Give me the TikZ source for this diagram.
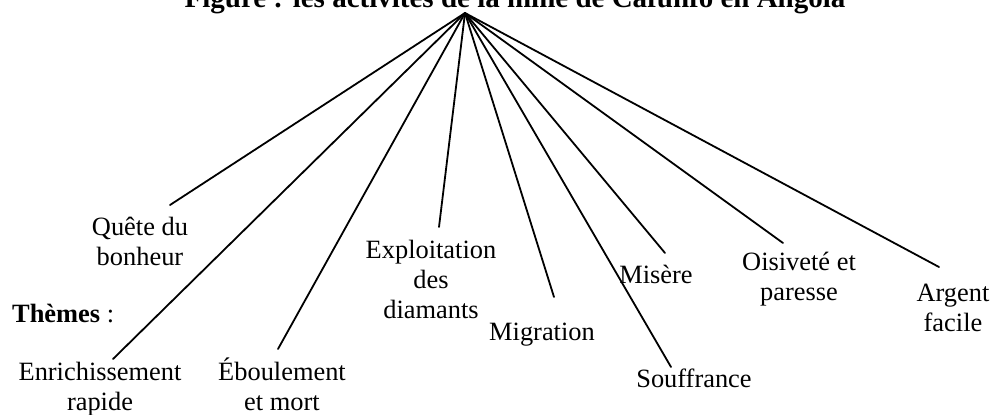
\documentclass[tikz,border=0pt]{standalone}
\usepackage{fontspec}
\setmainfont{Liberation Serif}
\begin{document}
\begin{tikzpicture}[x=1pt,y=-1pt,
  lbl/.style={inner sep=0pt,align=center,anchor=base,font=\fontsize{26.4}{30}\selectfont},
  ttl/.style={inner sep=0pt,anchor=base,font=\fontsize{29}{33}\selectfont\bfseries},
  conn/.style={line width=1.8pt,line cap=round}]
\useasboundingbox (0,0) rectangle (996,415);
\clip (0,0) rectangle (996,415);
\node[ttl] (title) at (515,7) {Figure : les activités de la mine de Cafunfo en Angola};
\coordinate (apex) at (465,13);
\node[lbl] (quete) at (140,265) {Quête du\\bonheur};
\node[lbl,anchor=base west] (themes) at (12,322) {\textbf{Thèmes} :};
\node[lbl] (enrich) at (100,410) {Enrichissement\\rapide};
\node[lbl] (eboul) at (282,410) {Éboulement\\et mort};
\node[lbl] (exploit) at (431,318) {Exploitation\\des\\diamants};
\node[lbl] (migr) at (542,340) {Migration};
\node[lbl] (misere) at (656,283) {Misère};
\node[lbl] (souff) at (694,387) {Souffrance};
\node[lbl] (oisiv) at (799,300) {Oisiveté et\\paresse};
\node[lbl] (argent) at (953,331) {Argent\\facile};
\coordinate (e1) at (170,205);
\coordinate (e2) at (113,359);
\coordinate (e3) at (278,349);
\coordinate (e4) at (439,227);
\coordinate (e5) at (554,297);
\coordinate (e6) at (671,367);
\coordinate (e7) at (665,253);
\coordinate (e8) at (783,243);
\coordinate (e9) at (939,267);
\foreach \e in {e1,e2,e3,e4,e5,e6,e7,e8,e9}
  \draw[conn] (apex) -- (\e);
\end{tikzpicture}
\end{document}
